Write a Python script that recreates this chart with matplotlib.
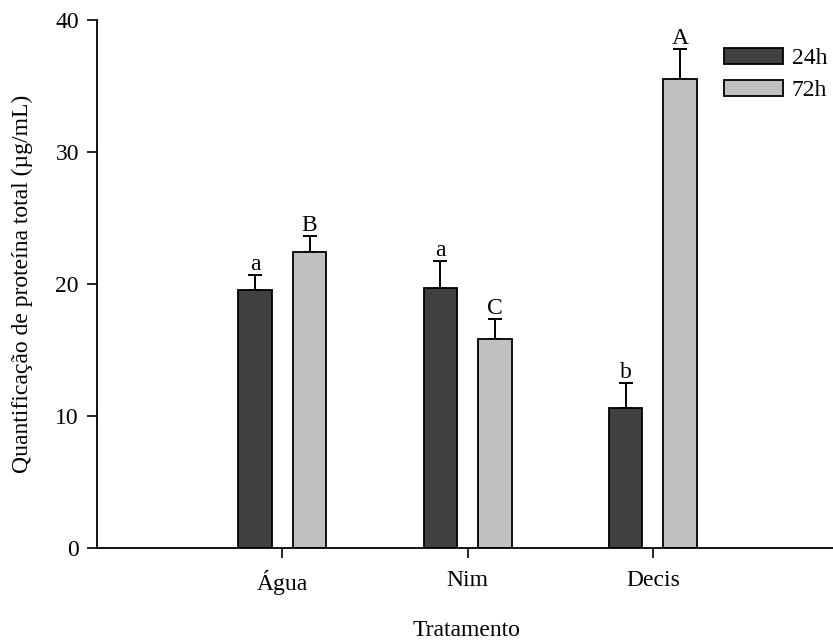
import matplotlib
matplotlib.use("Agg")
import matplotlib.pyplot as plt
from matplotlib.patches import Patch
import numpy as np

categories = ["Água", "Nim", "Decis"]
series_names = ["24h", "72h"]
values_24h = [19.55, 19.7, 10.6]
values_72h = [22.4, 15.85, 35.55]
err_24h = [1.15, 2.05, 1.9]
err_72h = [1.2, 1.5, 2.25]
letters_24h = ["a", "a", "b"]
letters_72h = ["B", "C", "A"]
yticks = [0, 10, 20, 30, 40]

plt.rcParams['font.family'] = ['Liberation Serif', 'DejaVu Serif']
FS = 17

fig = plt.figure(figsize=(8.33, 6.43), dpi=100)
ax = fig.add_axes([97/833, 95/643, 1 - 97/833 + 0.004, 528/643])

x = np.arange(1, len(categories) + 1)
w = 0.18
off = 0.147
c1, c2 = "#404040", "#c0c0c0"

ax.bar(x - off, values_24h, width=w, color=c1, edgecolor="black", linewidth=1.3, zorder=2)
ax.bar(x + off, values_72h, width=w, color=c2, edgecolor="black", linewidth=1.3, zorder=2)
ax.errorbar(x - off, values_24h, yerr=[np.zeros(3), err_24h], fmt="none", ecolor="black",
            elinewidth=1.4, capsize=5, capthick=1.4, zorder=1)
ax.errorbar(x + off, values_72h, yerr=[np.zeros(3), err_72h], fmt="none", ecolor="black",
            elinewidth=1.4, capsize=5, capthick=1.4, zorder=1)

for xi, v, e, t in zip(x - off, values_24h, err_24h, letters_24h):
    ax.annotate(t, (xi, v + e), xytext=(0, 0), textcoords="offset points",
                ha="center", va="bottom", fontsize=FS)
for xi, v, e, t in zip(x + off, values_72h, err_72h, letters_72h):
    ax.annotate(t, (xi, v + e), xytext=(0, 0), textcoords="offset points",
                ha="center", va="bottom", fontsize=FS)

ax.set_xlim(0, 3.99)
ax.set_ylim(0, 40)
ax.set_yticks(yticks)
ax.set_xticks(x)
ax.set_xticklabels(categories)
ax.tick_params(axis="both", direction="out", length=7, width=1.2, labelsize=FS)
ax.tick_params(axis="y", pad=6)
ax.tick_params(axis="x", pad=9)
for s in ["top", "right"]:
    ax.spines[s].set_visible(False)
for s in ["left", "bottom"]:
    ax.spines[s].set_linewidth(1.3)

ax.set_xlabel("Tratamento", fontsize=FS, labelpad=18)
ax.set_ylabel("Quantificação de proteína total (µg/mL)", fontsize=FS, labelpad=16)

handles = [Patch(facecolor=c1, edgecolor="black", linewidth=1.3),
           Patch(facecolor=c2, edgecolor="black", linewidth=1.3)]
ax.legend(handles, series_names, loc="upper left", bbox_to_anchor=(0.848, 0.947),
          frameon=False, fontsize=FS, handlelength=2.5, handleheight=0.68,
          handletextpad=0.38, labelspacing=0.44, borderpad=0, borderaxespad=0)

fig.savefig("out.png", dpi=100)
